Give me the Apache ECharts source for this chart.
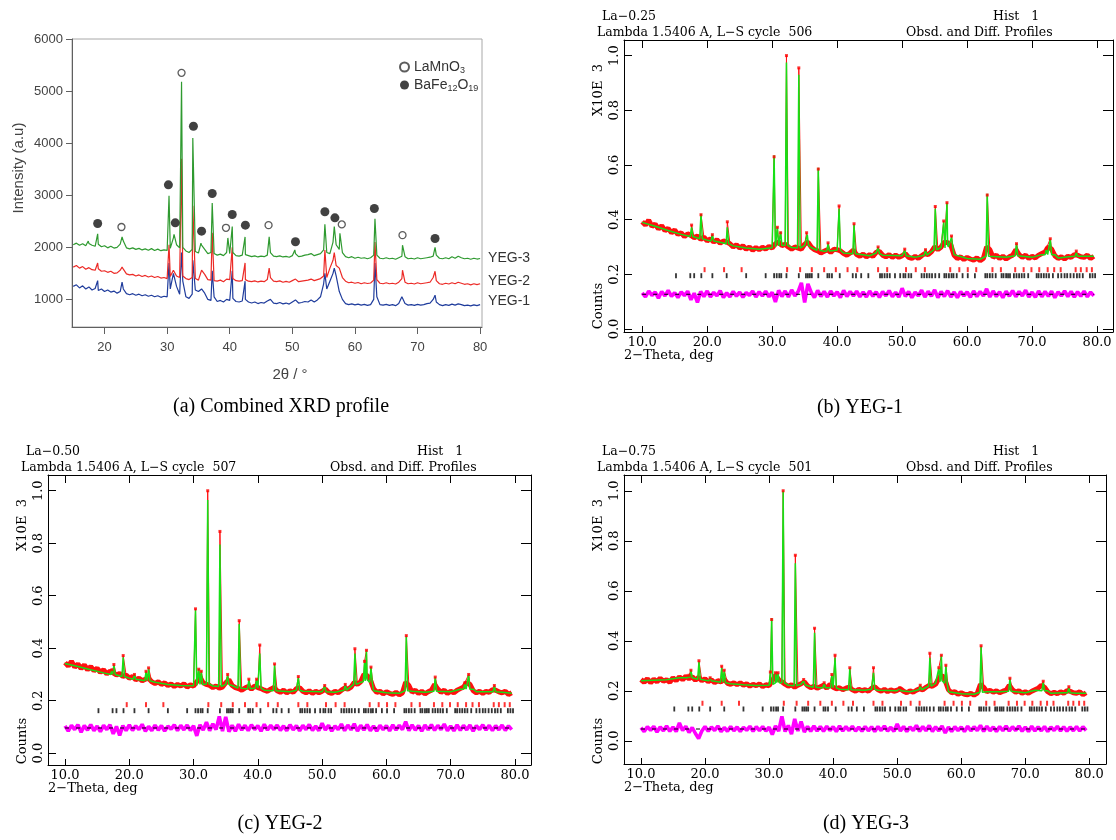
<!DOCTYPE html>
<html lang="en">
<head>
<meta charset="UTF-8">
<title>XRD profiles and Rietveld fits</title>
<script src="https://cdn.jsdelivr.net/npm/echarts@6.0.0/dist/echarts.min.js"></script>
<style>body{margin:0;background:#fff}</style>
</head>
<body>
<div id="main" style="width:1116px;height:840px;"></div>
<script>
// ---------- (a) combined XRD, sampled from 15.0 to 80.0 deg every 0.5 deg ----------
const aStart = 15, aStep = 0.5;
const yeg3 = [
  2050,2080,2040,2070,2030,2075,2040,2020,2060,2010,
  2030,1990,2020,1985,2000,2060,2120,1990,1970,1990,
  1960,1980,1950,1970,1945,1975,1940,1965,1935,1950,
  1940,1980,2180,2050,1990,2000,1930,1900,1960,1920,
  1890,2040,1960,1880,1900,1880,1850,1870,1840,1900,
  1880,1900,1840,1830,1850,1860,1840,1820,1835,1815,
  1830,1820,1850,1900,1830,1820,1835,1815,1825,1810,
  1840,1880,1820,1830,1850,1860,1880,1840,1860,1880,
  1950,1900,1880,2100,2050,1960,1900,1820,1800,1820,
  1790,1810,1790,1800,1780,1800,1850,1850,1790,1780,
  1800,1780,1790,1770,1800,1830,1820,1780,1790,1775,
  1800,1780,1790,1800,1810,1830,1850,1790,1780,1800,
  1780,1820,1790,1830,1800,1780,1790,1770,1790,1775,
  1785
];
const yeg3Peaks = [[17.4,2120],[18.9,2260],[22.8,2200],[30.3,2990],[31.1,2250],[32.3,5180],[34.1,4100],
  [35.4,2080],[37.2,2850],[39.7,2180],[40.4,2400],[42.45,2200],[46.3,2200],[50.4,1950],[55.2,2440],
  [56.7,2400],[57.6,2270],[63.2,2550],[67.6,2040],[72.8,2000]];
const yeg2 = [
  1620,1650,1600,1630,1580,1610,1570,1560,1590,1540,
  1550,1520,1540,1500,1510,1560,1580,1490,1470,1480,
  1450,1470,1440,1460,1430,1450,1420,1440,1410,1420,
  1400,1440,1560,1450,1420,1450,1400,1380,1420,1400,
  1370,1560,1480,1380,1370,1360,1350,1370,1340,1390,
  1380,1400,1360,1350,1360,1380,1350,1340,1355,1335,
  1350,1340,1380,1420,1350,1340,1355,1330,1345,1330,
  1360,1390,1340,1350,1360,1370,1390,1360,1380,1400,
  1450,1420,1600,1750,1650,1600,1420,1350,1320,1330,
  1310,1325,1300,1320,1305,1315,1370,1380,1310,1300,
  1320,1300,1310,1295,1330,1400,1330,1300,1310,1295,
  1320,1300,1310,1320,1330,1420,1360,1300,1290,1310,
  1295,1320,1300,1330,1310,1290,1300,1280,1300,1285,
  1300
];
const yeg2Peaks = [[18.9,1700],[22.8,1620],[30.3,2050],[32.3,3700],[34.1,2800],[37.2,2280],[40.4,2000],
  [42.45,1700],[46.3,1600],[55.2,1950],[56.7,1900],[63.2,2100],[67.6,1560],[72.8,1540]];
const yeg1 = [
  1250,1280,1220,1260,1200,1240,1180,1210,1170,1200,
  1150,1180,1140,1160,1120,1150,1200,1110,1090,1110,
  1080,1100,1070,1090,1060,1080,1050,1070,1040,1060,
  1050,1200,1500,1250,1100,1350,1050,1020,1100,1180,
  1150,1200,1120,1000,980,1050,960,980,950,1000,
  980,1020,960,950,970,1000,950,930,950,920,
  940,930,970,1000,930,920,940,915,930,910,
  950,990,930,940,960,950,990,950,990,1050,
  1300,1200,1350,1500,1450,1150,1000,920,900,915,
  895,910,890,905,885,900,1000,1050,900,890,
  905,885,900,880,920,1050,920,890,900,885,
  905,890,900,920,930,1000,950,900,880,900,
  885,910,890,915,900,880,890,875,895,880,
  900
];
const yeg1Peaks = [[18.9,1360],[22.8,1330],[30.3,1700],[32.3,1900],[34.1,1750],[37.2,1550],[40.4,1550],
  [42.45,1350],[55.2,1500],[56.7,1600],[63.2,1700],[67.6,1080],[72.8,1080]];
const laMnO3Marks = [[22.7,2390],[32.3,5350],[39.4,2375],[46.2,2426],[57.9,2440],[67.6,2234]];
const baFeMarks = [[18.9,2458],[30.2,3200],[31.3,2470],[34.2,4325],[35.5,2310],[37.2,3033],[40.4,2630],
  [42.5,2426],[50.5,2106],[55.2,2682],[56.8,2566],[63.1,2746],[72.8,2170]];
const aTicksX = [20,30,40,50,60,70,80];
const aTicksY = [1000,2000,3000,4000,5000,6000];

// ---------- (b)-(d) Rietveld plots, counts, observed sampled 10.0 to 79.5 every 0.5 deg ----------
const rStart = 10, rStep = 0.5;
const rTicksX = [10,20,30,40,50,60,70,80];
const rTicksY = [0,200,400,600,800,1000];

const obsB = [
  392,380,398,375,384,366,378,360,368,352,
  362,346,352,338,348,342,334,340,328,336,
  322,330,318,326,314,322,318,312,300,308,
  296,304,292,300,288,298,290,299,292,302,
  296,312,318,305,310,300,292,300,296,292,
  310,318,300,290,286,278,284,290,280,292,
  290,286,276,270,278,288,272,266,274,264,
  272,266,280,284,270,264,272,262,270,262,
  268,276,262,258,266,258,268,276,272,282,
  300,290,300,318,316,306,270,258,264,254,
  262,256,252,260,250,258,300,290,262,270,
  258,266,256,264,270,290,272,262,270,258,
  266,260,270,276,282,300,292,268,258,264,
  256,266,262,272,270,264,262,270,258,266
];
const obsPeaksB = [[17.6,380],[19.05,418],[20.8,345],[23.1,392],[30.3,630],[30.8,372],[31.3,352],[32.2,1000],
  [34.1,955],[35.3,352],[37.1,585],[38.6,315],[40.3,450],[42.6,385],[46.3,300],[50.4,292],[53.6,290],
  [55.1,448],[56.4,395],[56.9,462],[57.6,340],[63.1,490],[67.6,312],[72.2,295],[72.8,330],[76.8,285]];
const calcBgB = [[10,390],[12,376],[14,360],[16,346],[18,334],[20,325],[22,317],[24,304],[26,296],[28,292],
  [30,297],[31,304],[32,306],[33,298],[34,296],[35,306],[36,298],[37,288],[38,284],[40,288],[41,278],
  [43,272],[45,268],[46,278],[47,270],[50,268],[52,262],[54,274],[55,292],[56,298],[57,312],[58,272],
  [60,258],[62,255],[63,268],[64,265],[66,262],[68,268],[70,262],[71.5,272],[73.5,272],[74,260],
  [76,265],[78,266],[79.5,266]];
const calcPeaksB = [[17.6,338,372],[19.05,330,420],[20.8,322,345],[23.1,312,372],[30.3,300,635],[30.8,305,372],
  [31.3,305,355],[32.2,306,975],[34.1,296,930],[35.4,306,345],[37.1,288,590],[38.6,285,312],[40.3,288,440],
  [42.6,275,382],[46.3,276,298],[50.4,268,288],[53.6,270,290],[55.1,290,440],[56.4,296,390],[56.9,300,462],
  [57.6,298,335],[63.1,266,495],[67.6,268,312],[72.2,272,292],[72.8,272,328],[76.8,266,280]];
const diffB = [
  5,-10,12,-4,8,-14,10,-6,14,-8,
  6,-12,9,-5,11,-20,4,-30,10,-8,
  12,-10,7,-6,13,-12,5,-9,10,-7,
  8,-11,6,-4,12,-10,9,-6,11,-9,
  7,-28,14,-8,12,-10,16,-6,10,42,
  -30,38,8,-12,14,-8,10,-10,12,-6,
  9,-12,14,-8,10,-6,11,-9,8,-10,
  12,-7,9,-11,10,-6,13,-9,7,-10,
  22,-8,10,-12,8,-6,15,-10,11,-7,
  16,-12,10,-8,13,-10,8,-12,10,-6,
  9,-11,12,-8,10,-6,20,-10,12,-8,
  9,-12,11,-7,13,-9,10,-6,15,-10,
  8,-11,12,-9,10,-7,11,-12,9,-6,
  12,-8,10,-10,9,-7,11,-9,8,-6
];

const obsC = [
  345,332,350,328,340,322,336,318,330,314,
  324,308,318,302,312,306,298,304,292,298,
  286,292,280,286,276,282,285,272,266,272,
  262,268,258,264,254,262,256,264,252,260,
  256,272,290,268,262,258,250,256,248,252,
  268,280,258,250,246,240,248,254,244,256,
  250,246,240,236,244,250,238,232,240,230,
  238,232,246,250,236,230,238,228,236,230,
  236,244,232,228,236,230,240,248,244,252,
  270,262,272,300,296,280,246,232,236,226,
  234,228,224,232,222,230,270,258,232,240,
  228,236,226,234,240,262,244,232,240,228,
  236,230,240,246,252,270,262,238,230,236,
  228,236,232,242,240,234,230,236,224,230
];
const obsPeaksC = [[17.3,318],[17.6,338],[19.05,372],[20.8,300],[22.6,312],[23.0,325],[30.3,550],[30.8,320],
  [31.2,312],[32.2,1000],[34.1,845],[35.3,300],[37.1,505],[38.6,282],[39.8,282],[40.3,412],[42.6,340],
  [46.3,292],[50.4,258],[53.6,262],[55.1,398],[56.6,350],[56.9,392],[57.6,328],[63.1,448],[67.6,290],
  [72.2,268],[72.8,300],[76.8,258]];
const calcBgC = [[10,342],[12,330],[14,318],[16,306],[18,296],[20,286],[22,278],[24,270],[26,262],[28,258],
  [30,257],[31,262],[32,264],[33,256],[34,252],[35,262],[36,258],[37,248],[38,246],[40,248],[41,240],
  [43,238],[45,234],[46,240],[47,236],[50,234],[52,232],[54,244],[55,262],[56,270],[57,280],[58,238],
  [60,230],[62,228],[63,240],[64,236],[66,232],[68,238],[70,234],[71.5,244],[73.5,244],[74,234],
  [76,234],[78,232],[79.5,228]];
const calcPeaksC = [[17.3,300,318],[17.6,300,336],[19.05,292,365],[20.8,282,300],[22.6,276,310],[23.0,276,322],
  [30.3,258,545],[30.8,262,320],[31.2,262,310],[32.2,264,965],[34.1,254,795],[35.3,262,295],[37.1,248,492],
  [38.6,246,278],[39.8,248,278],[40.3,248,380],[42.6,238,335],[46.3,240,288],[50.4,234,256],[53.6,240,260],
  [55.1,262,380],[56.6,272,345],[56.9,275,390],[57.6,270,325],[63.1,238,445],[67.6,236,288],[72.2,244,265],
  [72.8,244,298],[76.8,234,255]];
const diffC = [
  8,-12,10,-6,12,-16,9,-8,13,-10,
  7,-14,10,-6,12,-22,6,-28,9,-10,
  12,-9,8,-6,14,-12,6,-10,11,-8,
  9,-12,7,-5,12,-10,10,-7,11,-9,
  8,-30,12,-8,22,-10,16,-6,44,-12,
  42,-14,10,-12,14,-8,10,-10,12,-6,
  9,-12,14,-8,10,-6,11,-9,8,-10,
  12,-7,9,-11,10,-6,13,-9,7,-10,
  18,-8,10,-12,8,-6,15,-10,11,-7,
  16,-12,10,-8,13,-10,8,-12,10,-6,
  9,-11,12,-8,10,-6,24,-10,12,-8,
  9,-12,11,-7,13,-9,10,-6,15,-10,
  8,-11,12,-9,10,-7,11,-12,9,-6,
  12,-8,10,-10,9,-7,11,-9,8,-6
];

const obsD = [
  245,234,248,232,246,236,250,238,244,234,
  252,240,256,244,258,248,256,242,254,240,
  248,236,244,232,240,236,246,230,226,232,
  224,232,222,228,218,226,220,228,216,224,
  220,240,262,244,236,226,218,224,214,222,
  228,236,220,212,218,210,216,222,210,226,
  214,208,212,204,210,214,204,198,206,200,
  204,198,210,216,204,198,206,196,204,198,
  202,208,198,192,200,194,202,208,204,214,
  222,218,226,250,262,240,204,192,196,186,
  192,186,184,190,182,190,226,214,196,202,
  194,200,192,198,202,222,204,194,200,190,
  196,190,198,204,210,222,214,196,188,194,
  188,196,190,200,198,192,190,196,184,192
];
const obsPeaksD = [[17.5,262],[17.8,282],[19.05,320],[20.8,252],[22.6,298],[23.0,282],[30.2,275],[30.4,485],
  [31.0,272],[31.4,272],[32.2,1000],[34.1,742],[35.4,245],[37.1,450],[38.6,232],[39.8,265],[40.3,342],
  [42.6,292],[46.3,292],[50.4,212],[53.6,222],[55.1,350],[56.5,292],[56.9,342],[57.6,302],[63.1,380],
  [67.6,250],[72.8,238],[76.8,216]];
const calcBgD = [[10,240],[12,242],[14,244],[16,252],[18,252],[20,242],[22,236],[24,228],[26,224],[28,221],
  [30,222],[31,232],[32,232],[33,222],[34,220],[35,226],[36,220],[37,214],[38,212],[40,212],[41,206],
  [43,204],[45,202],[46,206],[47,202],[50,200],[52,196],[54,206],[55,218],[56,230],[57,240],[58,196],
  [60,188],[62,186],[63,194],[64,196],[66,196],[68,198],[70,192],[71.5,202],[73.5,200],[74,190],
  [76,192],[78,190],[79.5,190]];
const calcPeaksD = [[17.5,252,262],[17.8,252,280],[19.05,246,315],[20.8,240,252],[22.6,234,292],[23.0,232,278],
  [30.2,224,275],[30.4,226,490],[31.0,232,272],[31.4,232,270],[32.2,232,1000],[34.1,220,710],[35.4,224,240],
  [37.1,214,432],[38.6,212,230],[39.8,212,262],[40.3,212,332],[42.6,204,288],[46.3,206,272],[50.4,200,210],
  [53.6,204,220],[55.1,218,332],[56.5,232,290],[56.9,236,340],[57.6,230,298],[63.1,194,375],[67.6,198,248],
  [72.8,200,234],[76.8,192,212]];
const diffD = [
  6,-10,9,-5,10,-12,8,-7,12,-9,
  8,-10,24,-6,11,-14,6,-18,-38,-8,
  10,-9,8,-6,12,-10,6,-9,10,-7,
  8,-10,7,-5,11,-9,9,-6,10,-8,
  7,-22,12,-8,50,-10,14,-20,40,-8,
  30,-12,10,-9,12,-8,10,-9,11,-6,
  9,-10,12,-8,10,-6,11,-8,8,-9,
  10,-7,9,-10,10,-6,12,-8,7,-9,
  20,-8,10,-10,8,-6,14,-9,10,-7,
  14,-10,9,-7,12,-16,8,-10,9,-6,
  8,-10,11,-7,9,-6,14,-9,11,-7,
  8,-10,10,-7,12,-8,9,-6,12,-9,
  8,-10,11,-8,9,-7,10,-10,8,-6,
  11,-8,9,-9,8,-7,10,-8,9,-6
];

// reflection positions (deg 2-theta)
const reflBaFe = [15.2,17.4,18.0,19.1,20.8,23.0,26.0,29.0,30.3,30.7,31.1,31.4,32.2,34.1,35.2,35.5,35.8,36.1,
  37.1,38.5,38.8,39.2,40.4,42.4,42.9,43.7,44.8,46.6,46.9,47.3,47.7,48.1,48.9,49.7,50.2,50.5,51.0,51.4,
  53.0,53.4,53.8,54.2,54.6,55.1,55.7,56.5,56.8,57.2,57.6,57.9,58.4,59.3,60.1,61.2,62.8,63.1,63.5,63.9,
  64.4,65.3,65.6,66.0,66.3,66.6,67.2,67.6,68.0,68.4,68.8,69.4,70.7,71.0,71.4,71.8,72.2,72.6,73.2,74.0,
  74.5,75.0,75.4,75.9,76.4,76.9,77.3,77.8,78.9,79.3,79.7];
const reflLaMn = [19.6,22.6,25.3,32.3,34.3,36.1,38.0,39.8,41.6,43.1,46.3,47.7,50.6,52.1,53.5,57.4,58.8,
  60.1,61.4,63.9,65.2,67.4,68.7,69.9,71.1,72.4,73.4,74.4,76.7,77.5,78.4,79.2];

// ---------- helpers ----------
const byX = (p, q) => p[0] - q[0];
const sampled = (start, step, vals) => vals.map((v, i) => [start + i * step, v]);
const withPeaks = (start, step, vals, pk) => sampled(start, step, vals).concat(pk).sort(byX);
function calcCurve(bg, pk, w) {
  const pts = bg.slice();
  pk.forEach(([x, base, top]) => pts.push([x - w, base], [x, top], [x + w, base]));
  return pts.sort(byX);
}

const SERIF = '"DejaVu Serif"';
const SANS = '"Liberation Sans"';
const grid = [], xAxis = [], yAxis = [], series = [], graphic = [];

function text(x, y, s, font, extra) {
  const el = {type: 'text', x: x, y: y, silent: true,
    style: {text: s, font: font, fill: (extra && extra.fill) || '#000',
      align: (extra && extra.align) || 'left', verticalAlign: 'middle'}};
  if (extra && extra.rot) el.rotation = extra.rot;
  graphic.push(el);
}

// ---------- panel (a) ----------
grid.push({left: 72, top: 39, width: 410, height: 288, show: true, borderColor: '#a8a8a8', borderWidth: 1});
xAxis.push({gridIndex: 0, type: 'value', min: 14.8, max: 80.3,
  axisLine: {onZero: false, lineStyle: {color: '#606060'}},
  axisTick: {customValues: aTicksX, length: 7, lineStyle: {color: '#606060'}},
  axisLabel: {customValues: aTicksX, margin: 14, fontFamily: SANS, fontSize: 13, color: '#444',
    formatter: v => String(v)},
  splitLine: {show: false}});
yAxis.push({gridIndex: 0, type: 'value', min: 470, max: 6000,
  axisLine: {show: true, onZero: false, lineStyle: {color: '#606060'}},
  axisTick: {show: true, customValues: aTicksY, length: 6, lineStyle: {color: '#606060'}},
  axisLabel: {customValues: aTicksY, margin: 9, fontFamily: SANS, fontSize: 13, color: '#444',
    formatter: v => String(v)},
  splitLine: {show: false}});

const aLines = [
  {name: 'YEG-1', vals: yeg1, pk: yeg1Peaks, color: '#1f3c9c', off: [0, -3]},
  {name: 'YEG-2', vals: yeg2, pk: yeg2Peaks, color: '#ec2a26', off: [0, -3]},
  {name: 'YEG-3', vals: yeg3, pk: yeg3Peaks, color: '#2f9a30', off: [0, 0]}
];
aLines.forEach(l => series.push({
  name: l.name, type: 'line', xAxisIndex: 0, yAxisIndex: 0,
  data: withPeaks(aStart, aStep, l.vals, l.pk), showSymbol: false, z: 2,
  lineStyle: {color: l.color, width: 1.2}, itemStyle: {color: l.color},
  endLabel: {show: true, formatter: l.name, distance: 8, offset: l.off,
    fontFamily: SANS, fontSize: 14, color: '#333'}
}));
series.push({name: 'LaMnO3', type: 'scatter', xAxisIndex: 0, yAxisIndex: 0, data: laMnO3Marks,
  symbol: 'circle', symbolSize: 7, z: 4,
  itemStyle: {color: '#fff', borderColor: '#333', borderWidth: 1.3}});
series.push({name: 'BaFe12O19', type: 'scatter', xAxisIndex: 0, yAxisIndex: 0, data: baFeMarks,
  symbol: 'circle', symbolSize: 9, z: 4, itemStyle: {color: '#111'}});

text(19, 168, 'Intensity (a.u)', '15px ' + SANS, {fill: '#444', align: 'center', rot: Math.PI / 2});
text(290, 375, '2θ / °', '15px ' + SANS, {fill: '#444', align: 'center'});
text(281, 407, '(a) Combined XRD profile', '20px "Liberation Serif"', {align: 'center'});

// ---------- panels (b)-(d) ----------
const panels = [
  {sample: 'La−0.25', cycle: '506', caption: '(b) YEG-1', capX: 860, capY: 408,
   box: {left: 624, top: 40, width: 489, height: 292}, xr: [7.2, 82.45], yr: [-11, 1057],
   obs: obsB, obsPk: obsPeaksB, bg: calcBgB, pk: calcPeaksB, diff: diffB,
   diffZero: 127, baRow: 195, laRow: 217},
  {sample: 'La−0.50', cycle: '507', caption: '(c) YEG-2', capX: 280, capY: 824,
   box: {left: 48, top: 475, width: 483, height: 290}, xr: [7.35, 82.5], yr: [-45, 1060],
   obs: obsC, obsPk: obsPeaksC, bg: calcBgC, pk: calcPeaksC, diff: diffC,
   diffZero: 96, baRow: 162, laRow: 185},
  {sample: 'La−0.75', cycle: '501', caption: '(d) YEG-3', capX: 866, capY: 824,
   box: {left: 624, top: 475, width: 482, height: 289}, xr: [7.35, 82.6], yr: [-93, 1063],
   obs: obsD, obsPk: obsPeaksD, bg: calcBgD, pk: calcPeaksD, diff: diffD,
   diffZero: 47, baRow: 127, laRow: 150}
];

panels.forEach((p, k) => {
  const gi = k + 1;
  grid.push(Object.assign({show: false}, p.box));
  const xb = xAxis.length, yb = yAxis.length;
  const lab = {fontFamily: SERIF, fontSize: 13, color: '#000'};
  xAxis.push({gridIndex: gi, type: 'value', min: p.xr[0], max: p.xr[1], position: 'bottom',
    axisLine: {onZero: false, lineStyle: {color: '#000'}},
    axisTick: {inside: true, length: 6, customValues: rTicksX, lineStyle: {color: '#000'}},
    axisLabel: Object.assign({customValues: rTicksX, margin: 4, formatter: v => v.toFixed(1)}, lab),
    splitLine: {show: false}});
  xAxis.push({gridIndex: gi, type: 'value', min: p.xr[0], max: p.xr[1], position: 'top',
    axisLine: {onZero: false, lineStyle: {color: '#000'}},
    axisTick: {inside: true, length: 8, customValues: rTicksX, lineStyle: {color: '#000'}},
    axisLabel: {show: false}, splitLine: {show: false}});
  yAxis.push({gridIndex: gi, type: 'value', min: p.yr[0], max: p.yr[1], position: 'left',
    axisLine: {show: true, onZero: false, lineStyle: {color: '#000'}},
    axisTick: {show: true, inside: true, length: 8, customValues: rTicksY, lineStyle: {color: '#000'}},
    axisLabel: Object.assign({customValues: rTicksY, rotate: 90, margin: 3,
      formatter: v => (v / 1000).toFixed(1)}, lab),
    splitLine: {show: false}});
  yAxis.push({gridIndex: gi, type: 'value', min: p.yr[0], max: p.yr[1], position: 'right',
    axisLine: {show: true, onZero: false, lineStyle: {color: '#000'}},
    axisTick: {show: true, inside: true, length: 10, customValues: rTicksY, lineStyle: {color: '#000'}},
    axisLabel: {show: false}, splitLine: {show: false}});

  const ax = {xAxisIndex: xb, yAxisIndex: yb};
  // observed: noisy band of the sampled profile, plus the points on the peaks
  series.push(Object.assign({type: 'line', data: sampled(rStart, rStep, p.obs),
    showSymbol: false, z: 2, lineStyle: {color: '#ff1010', width: 5}}, ax));
  series.push(Object.assign({type: 'line', data: withPeaks(rStart, rStep, p.obs, p.obsPk),
    showSymbol: false, z: 2, lineStyle: {color: '#ff1010', width: 1}}, ax));
  series.push(Object.assign({type: 'scatter', data: p.obsPk,
    symbol: 'rect', symbolSize: 3, z: 4, itemStyle: {color: '#ff0000'}}, ax));
  // calculated profile
  series.push(Object.assign({type: 'line', data: calcCurve(p.bg, p.pk, 0.2),
    showSymbol: false, z: 3, lineStyle: {color: '#16e016', width: 1.5}}, ax));
  // difference curve with its dashed zero line
  series.push(Object.assign({type: 'line',
    data: sampled(rStart, rStep, p.diff).map(([x, d]) => [x, d + p.diffZero]),
    showSymbol: false, z: 2, lineStyle: {color: '#ff00ff', width: 3.6}}, ax));
  series.push(Object.assign({type: 'line',
    data: [[rStart, p.diffZero], [rStart + (p.diff.length - 1) * rStep, p.diffZero]],
    showSymbol: false, z: 4, lineStyle: {color: '#000', width: 1, type: [4, 7]}}, ax));
  // reflection markers
  series.push(Object.assign({type: 'scatter', data: reflBaFe.map(x => [x, p.baRow]),
    symbol: 'rect', symbolSize: [1.8, 5], z: 3, itemStyle: {color: '#000'}}, ax));
  series.push(Object.assign({type: 'scatter', data: reflLaMn.map(x => [x, p.laRow]),
    symbol: 'rect', symbolSize: [2, 5], z: 3, itemStyle: {color: '#ff0000'}}, ax));

  const L = p.box.left, T = p.box.top, B = p.box.top + p.box.height;
  const f = '12.5px ' + SERIF;
  text(L - 22, T - 23, p.sample, f);
  text(L + 369, T - 23, 'Hist   1', f);
  text(L - 27, T - 7, 'Lambda 1.5406 A, L−S cycle  ' + p.cycle, f);
  text(L + 282, T - 7, 'Obsd. and Diff. Profiles', f);
  text(L - 25, T + 50, 'X10E  3', '13px ' + SERIF, {align: 'center', rot: Math.PI / 2});
  text(L - 25, T + 266, 'Counts', '13px ' + SERIF, {align: 'center', rot: Math.PI / 2});
  text(L, B + 24, '2−Theta, deg', '13px ' + SERIF);
  text(p.capX, p.capY, p.caption, '20px "Liberation Serif"', {align: 'center'});
});

const chart = echarts.init(document.getElementById('main'));
chart.setOption({
  animation: false,
  backgroundColor: '#fff',
  grid: grid, xAxis: xAxis, yAxis: yAxis, series: series, graphic: graphic,
  legend: {
    data: ['LaMnO3', 'BaFe12O19'], orient: 'vertical', left: 394, top: 55,
    itemWidth: 9, itemHeight: 9, itemGap: 3, selectedMode: false,
    formatter: n => n === 'LaMnO3' ? 'LaMnO{s|3}' : 'BaFe{s|12}O{s|19}',
    textStyle: {fontFamily: SANS, fontSize: 14, color: '#333',
      rich: {s: {fontFamily: SANS, fontSize: 9, color: '#333', padding: [7, 0, 0, 0]}}}
  }
});
</script>
</body>
</html>
